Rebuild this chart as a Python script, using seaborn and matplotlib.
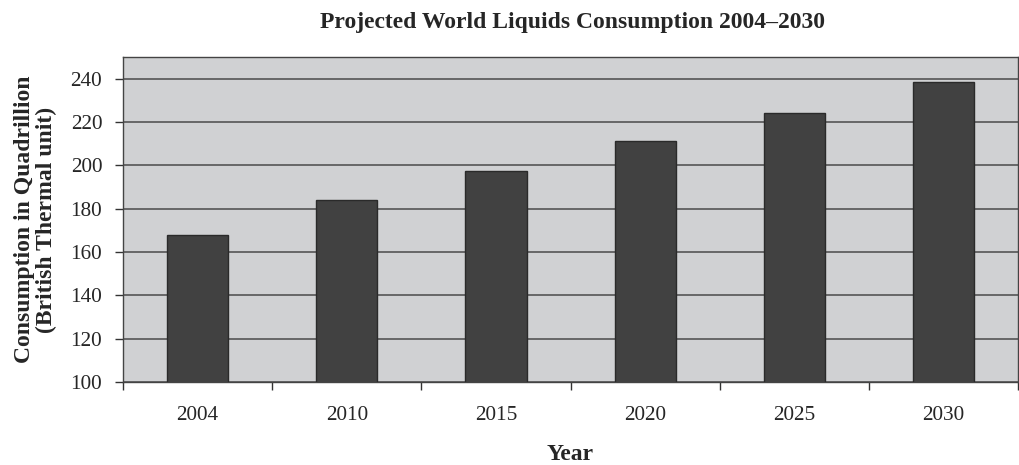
import matplotlib
matplotlib.use("Agg")
import matplotlib.pyplot as plt
import seaborn as sns
import pandas as pd

# Projected world liquids consumption (quadrillion Btu)
years = ["2004", "2010", "2015", "2020", "2025", "2030"]
consumption = [168, 184, 197.5, 211, 224, 238.5]
y_ticks = [100, 120, 140, 160, 180, 200, 220, 240]

df = pd.DataFrame({"Year": years, "Consumption": consumption})

sns.set_style("white")
plt.rcParams["font.family"] = ["Liberation Serif", "DejaVu Serif"]

fig = plt.figure(figsize=(10.2, 4.65), dpi=100)
ax = fig.add_axes([0.1206, 0.1785, 0.8775, 0.699])
ax.set_facecolor("#d0d1d3")

sns.barplot(data=df, x="Year", y="Consumption", ax=ax, color="#414141",
            width=0.41, edgecolor="#2a2a2a", linewidth=1.0, saturation=1,
            zorder=3)

ax.set_ylim(100, 250)
ax.set_xlim(-0.5, len(years) - 0.5)
ax.set_yticks(y_ticks)
ax.yaxis.grid(True, color="#555555", linewidth=1.2, zorder=1)
ax.set_axisbelow(True)

# category separators as downward tick marks, labels centred without ticks
ax.set_xticks([i - 0.5 for i in range(len(years) + 1)], minor=True)
ax.tick_params(axis="x", which="major", length=0, pad=17, labelsize=15.3)
ax.tick_params(axis="x", which="minor", length=6, width=1, color="#333333",
               direction="out", bottom=True)
ax.tick_params(axis="y", which="major", length=6, width=1, color="#333333",
               direction="out", left=True, labelsize=15.3, pad=9)

for side in ["top", "right", "left", "bottom"]:
    ax.spines[side].set_color("#444444")
    ax.spines[side].set_linewidth(1.0)

ax.set_xlabel("Year", fontsize=17, fontweight="bold")
ax.xaxis.set_label_coords(0.5, -0.19)
ax.set_ylabel("Consumption in Quadrillion\n(British Thermal unit)",
              fontsize=17, fontweight="bold", labelpad=10, linespacing=1.0)
fig.suptitle("Projected World Liquids Consumption 2004\u20132030",
             x=0.561, y=0.975, fontsize=17, fontweight="bold")

fig.savefig("out.png", dpi=100, facecolor="white")
